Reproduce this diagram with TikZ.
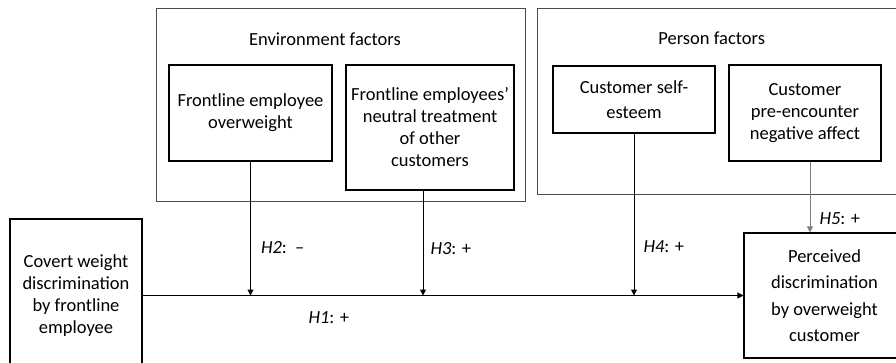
\documentclass[tikz,border=0pt]{standalone}
\usepackage{fontspec}
\setmainfont{Carlito}
\usepackage{tikz}
\usetikzlibrary{arrows.meta, positioning}

\begin{document}
\begin{tikzpicture}[
    x=1pt, y=-1pt,
    >={Triangle[length=6pt, width=6pt]},
    group/.style={rectangle, draw=black!70, line width=0.9pt, inner sep=0pt},
    factor/.style={rectangle, draw=black, line width=1.1pt, align=center, inner sep=2pt, font=\fontsize{18.5}{22}\selectfont},
    hyp/.style={font=\fontsize{18.5}{22}\selectfont, inner sep=0pt},
    title/.style={font=\fontsize{18.5}{22}\selectfont, inner sep=0pt}
]
    \useasboundingbox (0,0) rectangle (896,362);
    \clip (0,0) rectangle (896,362);

    % the two groups of moderators
    \node[group, minimum width=369pt, minimum height=193pt] (env) at (340.5,104.5) {};
    \node[group, minimum width=363pt, minimum height=186pt] (pers) at (718.5,101) {};
    \node[title] (envt) at (325,39) {Environment factors};
    \node[title] (perst) at (711.7,38) {Person factors};

    % moderators
    \node[factor, minimum width=163pt, minimum height=96pt] (ovw) at (250.5,113) {Frontline employee\\overweight};
    \node[factor, minimum width=168pt, minimum height=125pt] (neutral) at (430,127.5) {Frontline employees'\\neutral treatment\\of other\\customers};
    \node[factor, minimum width=162pt, minimum height=67pt, font=\fontsize{18.5}{25}\selectfont] (esteem) at (634,99.5) {Customer self-\\esteem};
    \node[factor, minimum width=152pt, minimum height=96pt] (affect) at (805,113) {Customer\\pre-encounter\\negative affect};

    % main effect
    \node[factor, minimum width=132pt, minimum height=153pt] (cause) at (76,295.5) {Covert weight\\discrimination\\by frontline\\employee};
    \node[factor, minimum width=161pt, minimum height=125pt, font=\fontsize{18.5}{26.5}\selectfont] (effect) at (824.5,295.5) {Perceived\\discrimination\\by overweight\\customer};

    \draw[->, line width=1pt] (cause) -- node[hyp, below=16pt, pos=0.31] {\textit{H1}: +} (effect);

    \draw[->, line width=1pt] (ovw.south) -- node[hyp, right=10pt, pos=0.64] {\textit{H2}:\ \ --} (ovw.south |- cause.east);
    \draw[->, line width=1pt] ([xshift=-7pt]neutral.south) -- node[hyp, right=7pt, pos=0.55] {\textit{H3}: +} ([xshift=-7pt]neutral.south |- cause.east);
    \draw[->, line width=1pt] (esteem.south) -- node[hyp, right=9pt, pos=0.7] {\textit{H4}: +} (esteem.south |- cause.east);
    \draw[->, line width=1pt, black!50] ([xshift=5pt]affect.south) -- node[hyp, right=9pt, pos=0.8, text=black] {\textit{H5}: +} ([xshift=5pt]affect.south |- effect.north);
\end{tikzpicture}
\end{document}
